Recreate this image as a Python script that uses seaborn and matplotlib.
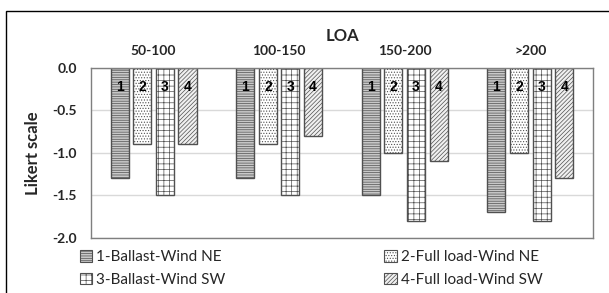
import matplotlib
matplotlib.use("Agg")
import matplotlib.pyplot as plt
import pandas as pd
import seaborn as sns
from matplotlib.patches import Patch, Rectangle

# Données
loa_groups = ["50-100", "100-150", "150-200", ">200"]
series_names = [
    "1-Ballast-Wind NE",
    "2-Full load-Wind NE",
    "3-Ballast-Wind SW",
    "4-Full load-Wind SW",
]
ballast_ne = [-1.3, -1.3, -1.5, -1.7]
full_ne = [-0.9, -0.9, -1.0, -1.0]
ballast_sw = [-1.5, -1.5, -1.8, -1.8]
full_sw = [-0.9, -0.8, -1.1, -1.3]
bar_numbers = ["1", "2", "3", "4"]
y_ticks = [0.0, -0.5, -1.0, -1.5, -2.0]

# Styles des barres
face_colors = ["#c8c8c8", "white", "white", "#f0f0f0"]
hatches = ["-------", "......", "+++", "////////"]
edge_color = "#505050"

rows = []
for name, values in zip(series_names, [ballast_ne, full_ne, ballast_sw, full_sw]):
    for grp, val in zip(loa_groups, values):
        rows.append({"LOA": grp, "serie": name, "valeur": val})
df = pd.DataFrame(rows)

sns.set_theme(style="white")
plt.rcParams["font.family"] = ["Lato", "DejaVu Sans"]
plt.rcParams["hatch.linewidth"] = 0.5

fig = plt.figure(figsize=(6.09, 2.93), dpi=100)
ax = fig.add_axes([0.149, 0.188, 0.825, 0.580])

sns.barplot(
    data=df,
    x="LOA",
    y="valeur",
    hue="serie",
    order=loa_groups,
    hue_order=series_names,
    width=0.72,
    gap=0.2,
    legend=False,
    ax=ax,
)

for i, container in enumerate(ax.containers):
    for patch in container:
        patch.set_facecolor(face_colors[i])
        patch.set_hatch(hatches[i])
        patch.set_edgecolor(edge_color)
        patch.set_linewidth(1.0)
        top = max(patch.get_y(), patch.get_y() + patch.get_height())
        ax.text(
            patch.get_x() + patch.get_width() / 2,
            top - 0.22,
            bar_numbers[i],
            ha="center",
            va="center",
            fontsize=10,
            fontweight="bold",
            family=["Liberation Sans", "DejaVu Sans"],
            color="black",
        )

ax.set_ylim(-2.0, 0.0)
ax.set_yticks(y_ticks)
ax.set_yticklabels([f"{v:.1f}" for v in y_ticks], fontweight="bold", fontsize=10)
ax.yaxis.grid(True, color="#d9d9d9", linewidth=1)
ax.set_axisbelow(True)

ax.xaxis.tick_top()
ax.xaxis.set_label_position("top")
ax.set_xticklabels(loa_groups, fontweight="bold", fontsize=10)
ax.set_xlabel("LOA", fontweight="bold", fontsize=12, labelpad=3)
ax.set_ylabel("Likert scale", fontweight="bold", fontsize=12, labelpad=8)
ax.tick_params(axis="both", length=0)
ax.tick_params(axis="y", pad=10)
ax.tick_params(axis="x", pad=8)

for spine in ax.spines.values():
    spine.set_color("#7f7f7f")
    spine.set_linewidth(1)

# Ordre du légende : lignes 1-2 puis 3-4
legend_order = [0, 2, 1, 3]
handles = [
    Patch(facecolor=face_colors[i], hatch=hatches[i], edgecolor=edge_color, linewidth=0.8)
    for i in legend_order
]
fig.legend(
    handles,
    [series_names[i] for i in legend_order],
    ncol=2,
    loc="upper left",
    bbox_to_anchor=(0.118, 0.172),
    frameon=False,
    fontsize=11,
    handlelength=0.8,
    handleheight=0.8,
    handletextpad=0.3,
    columnspacing=10.4,
    labelspacing=0.55,
    borderpad=0,
)

# Cadre de la figure
fig.add_artist(
    Rectangle(
        (6 / 609, -0.1),
        1.1,
        1.1 - 11 / 293,
        transform=fig.transFigure,
        fill=False,
        edgecolor="black",
        linewidth=1,
    )
)

fig.savefig("out.png", dpi=100)
